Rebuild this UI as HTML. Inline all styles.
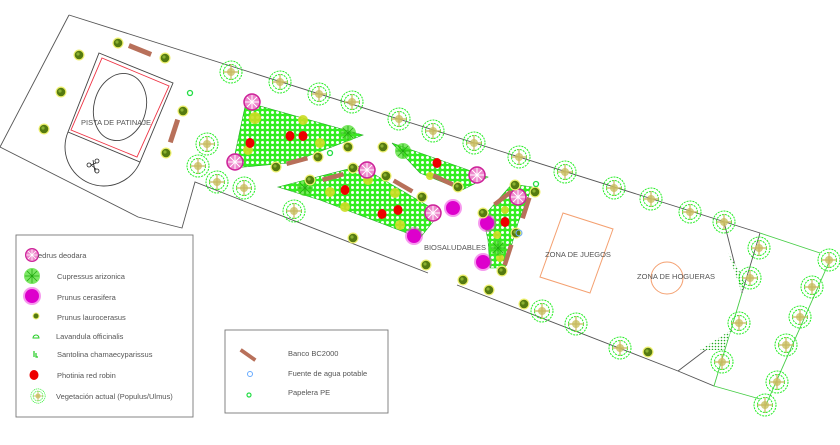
<!DOCTYPE html>
<html><head><meta charset="utf-8"><style>
html,body{margin:0;padding:0;background:#fff;}
svg{display:block;}
text{font-family:"Liberation Sans",sans-serif;fill:#555;}
</style></head><body>
<svg width="840" height="445" viewBox="0 0 840 445" xmlns="http://www.w3.org/2000/svg">
<defs>
<pattern id="hx" width="5" height="5" patternUnits="userSpaceOnUse">
<rect width="5" height="5" fill="#33ee22"/>
<circle cx="2.5" cy="2.5" r="1.5" fill="#fff"/>
</pattern>
<pattern id="ht" width="3" height="3" patternUnits="userSpaceOnUse">
<rect width="3" height="3" fill="#fff"/>
<circle cx="1.5" cy="1.5" r="0.8" fill="#22aa22"/>
</pattern>
<g id="tree">
<circle r="11" fill="none" stroke="#22ee22" stroke-width="1" stroke-dasharray="2 1"/>
<circle r="7.5" fill="none" stroke="#22ee22" stroke-width="1" stroke-dasharray="2 1"/>
<circle r="4" fill="#c8c060" opacity="0.8"/>
<path d="M-8,0H8M0,-8V8" stroke="#c8b860" stroke-width="1.2"/>
</g>
<g id="sh">
<circle r="5.5" fill="#eef070"/>
<circle r="4.3" fill="#557a10"/>
<circle cx="-1" cy="-1" r="1.6" fill="#8ab030"/>
</g>
<g id="ced">
<circle r="8" fill="#ee88cc" stroke="#cc2299" stroke-width="1.5"/>
<path d="M-7,0H7M0,-7V7M-5,-5L5,5M-5,5L5,-5" stroke="#fff" stroke-width="1"/>
</g>
<g id="pru">
<circle r="9" fill="#ee33dd" opacity="0.5"/>
<circle r="7" fill="#dd00cc"/>
</g>
<g id="pho"><ellipse rx="4.5" ry="5" fill="#ee0000"/></g>
<g id="cyp"><circle r="8" fill="#44dd22" opacity="0.7"/><path d="M-7,0H7M0,-7V7M-5,-5L5,5M-5,5L5,-5" stroke="#22aa11" stroke-width="0.8"/></g>
<g id="bench"><rect x="-12" y="-2.5" width="24" height="5" fill="#b8705a"/></g>
</defs>

<g fill="none" stroke="#555" stroke-width="0.9">
<polyline points="69,15 760,233"/>
<polyline points="69,15 0,147 138,217 182,228 195,182 428,273"/>
<polyline points="457,285 678,371 714,386"/>
<polyline points="760,233 742,293"/>
<polyline points="724,222 742,293"/>
<polyline points="678,371 732,330"/>
</g>
<g fill="none" stroke="#44cc44" stroke-width="0.9">
<polyline points="760,233 820,253"/>
<polyline points="742,293 714,386 760,399"/>
<polyline points="830,260 765,407"/>
</g>
<polygon points="728,253 745,280 742,293" fill="url(#ht)"/>
<polygon points="700,350 731,330 724,350" fill="url(#ht)"/>

<polygon points="99,53 173,83 140,162 68,132" fill="none" stroke="#444" stroke-width="0.9"/>
<polygon points="102,58 169,86 137,157 71,130" fill="none" stroke="#ee3344" stroke-width="0.9"/>
<ellipse cx="120" cy="107" rx="26" ry="34" transform="rotate(15 120 107)" fill="none" stroke="#444" stroke-width="0.9"/>
<path d="M68,132 A39,39 0 1,0 140,162" fill="none" stroke="#444" stroke-width="0.9"/>
<text x="116" y="125" font-size="7.5" text-anchor="middle">PISTA DE PATINAJE</text>
<g fill="none" stroke="#222" stroke-width="0.8">
<circle cx="89" cy="165" r="2"/><circle cx="97" cy="161" r="2"/><circle cx="97" cy="171" r="2"/>
<path d="M91,165 L96,163 M91,165 L96,169 M93,160 L95,172"/>
</g>

<polygon points="563,213 613,229 590,293 540,277" fill="none" stroke="#f4a070" stroke-width="1"/>
<text x="578" y="257" font-size="7.5" text-anchor="middle">ZONA DE JUEGOS</text>
<circle cx="667" cy="278" r="16" fill="none" stroke="#f4a070" stroke-width="1"/>
<text x="676" y="279" font-size="7.5" text-anchor="middle">ZONA DE HOGUERAS</text>
<text x="455" y="250" font-size="7.5" text-anchor="middle">BIOSALUDABLES</text>

<g stroke="#22aa22" stroke-width="0.6">
<polygon points="246,102 363,135 290,163 232,168" fill="url(#hx)"/>
<polygon points="278,187 360,166 440,213 420,238 320,200" fill="url(#hx)"/>
<polygon points="392,143 488,177 462,190 420,173" fill="url(#hx)"/>
<polygon points="512,184 532,187 518,223 505,268 490,268 488,240 483,217" fill="url(#hx)"/>
</g>
<g fill="#ccdd22" opacity="0.9">
<circle cx="255" cy="118" r="6"/><circle cx="248" cy="150" r="5"/><circle cx="303" cy="120" r="5"/><circle cx="320" cy="143" r="5"/>
<circle cx="330" cy="192" r="5"/><circle cx="368" cy="180" r="5"/><circle cx="345" cy="207" r="5"/><circle cx="395" cy="193" r="5"/><circle cx="400" cy="225" r="5"/>
<circle cx="430" cy="176" r="4"/><circle cx="505" cy="210" r="4"/><circle cx="497" cy="235" r="4"/><circle cx="500" cy="258" r="4"/>
</g>

<use href="#cyp" x="348" y="133"/><use href="#cyp" x="305" y="188"/><use href="#cyp" x="403" y="151"/><use href="#cyp" x="498" y="248"/>

<use href="#bench" transform="translate(140,50) rotate(22)"/>
<use href="#bench" transform="translate(174,131) rotate(-72)"/>
<use href="#bench" transform="translate(297,161) rotate(-15) scale(0.9)"/>
<use href="#bench" transform="translate(333,177) rotate(-15) scale(0.9)"/>
<use href="#bench" transform="translate(403,186) rotate(30) scale(0.9)"/>
<use href="#bench" transform="translate(443,180) rotate(25) scale(0.9)"/>
<use href="#bench" transform="translate(503,198) rotate(-38) scale(0.9)"/>
<use href="#bench" transform="translate(526,208) rotate(-72) scale(0.9)"/>
<use href="#bench" transform="translate(508,255) rotate(-72) scale(0.9)"/>

<use href="#ced" x="252" y="102"/><use href="#ced" x="235" y="162"/><use href="#ced" x="367" y="170"/><use href="#ced" x="433" y="213"/><use href="#ced" x="477" y="175"/><use href="#ced" x="518" y="197"/>
<use href="#pru" x="453" y="208"/><use href="#pru" x="414" y="236"/><use href="#pru" x="487" y="223"/><use href="#pru" x="483" y="262"/>
<use href="#pho" x="250" y="143"/><use href="#pho" x="290" y="136"/><use href="#pho" x="303" y="136"/><use href="#pho" x="345" y="190"/><use href="#pho" x="382" y="214"/><use href="#pho" x="398" y="210"/><use href="#pho" x="437" y="163"/><use href="#pho" x="505" y="222"/>

<g>
<use href="#sh" x="118" y="43"/><use href="#sh" x="165" y="58"/><use href="#sh" x="79" y="55"/><use href="#sh" x="61" y="92"/><use href="#sh" x="44" y="129"/><use href="#sh" x="183" y="111"/><use href="#sh" x="166" y="153"/>
<use href="#sh" x="348" y="147"/><use href="#sh" x="383" y="147"/><use href="#sh" x="318" y="157"/><use href="#sh" x="276" y="167"/><use href="#sh" x="310" y="180"/><use href="#sh" x="353" y="168"/><use href="#sh" x="386" y="176"/><use href="#sh" x="422" y="197"/><use href="#sh" x="458" y="187"/><use href="#sh" x="353" y="238"/><use href="#sh" x="426" y="265"/>
<use href="#sh" x="483" y="213"/><use href="#sh" x="515" y="185"/><use href="#sh" x="535" y="192"/><use href="#sh" x="516" y="233"/><use href="#sh" x="502" y="271"/><use href="#sh" x="463" y="280"/><use href="#sh" x="489" y="290"/><use href="#sh" x="524" y="304"/><use href="#sh" x="648" y="352"/>
</g>
<g fill="none" stroke="#22dd44" stroke-width="1.3">
<circle cx="190" cy="93" r="2.5"/><circle cx="330" cy="153" r="2.5"/><circle cx="536" cy="184" r="2.5"/>
</g>
<circle cx="519" cy="233" r="3" fill="none" stroke="#66aaff" stroke-width="1"/>

<g>
<use href="#tree" x="231" y="72"/><use href="#tree" x="280" y="82"/><use href="#tree" x="319" y="94"/><use href="#tree" x="352" y="102"/><use href="#tree" x="399" y="119"/><use href="#tree" x="433" y="131"/><use href="#tree" x="474" y="143"/><use href="#tree" x="519" y="157"/><use href="#tree" x="565" y="172"/><use href="#tree" x="651" y="199"/><use href="#tree" x="690" y="212"/><use href="#tree" x="724" y="222"/><use href="#tree" x="614" y="188"/>
<use href="#tree" x="759" y="248"/><use href="#tree" x="750" y="278"/><use href="#tree" x="739" y="323"/><use href="#tree" x="722" y="362"/>
<use href="#tree" x="829" y="260"/><use href="#tree" x="812" y="287"/><use href="#tree" x="800" y="317"/><use href="#tree" x="786" y="345"/><use href="#tree" x="777" y="382"/><use href="#tree" x="765" y="405"/>
<use href="#tree" x="542" y="311"/><use href="#tree" x="576" y="324"/><use href="#tree" x="620" y="348"/>
<use href="#tree" x="207" y="144"/><use href="#tree" x="198" y="166"/><use href="#tree" x="217" y="182"/><use href="#tree" x="244" y="188"/><use href="#tree" x="294" y="211"/>
</g>

<rect x="16" y="235" width="177" height="182" fill="#fff" stroke="#777" stroke-width="0.9"/>
<g font-size="7.5">
<use href="#ced" x="32" y="255" transform="translate(32 255) scale(0.8) translate(-32 -255)"/>
<text x="38" y="258">edrus deodara</text>
<use href="#cyp" x="32" y="276"/><text x="57" y="279">Cupressus arizonica</text>
<use href="#pru" x="32" y="296"/><text x="57" y="300">Prunus cerasifera</text>
<circle cx="36" cy="316" r="3" fill="#557a10" stroke="#eef070"/><text x="57" y="320">Prunus laurocerasus</text>
<path d="M33,338 a3,3 0 1,1 6,0z" fill="none" stroke="#22cc22"/><text x="56" y="339">Lavandula officinalis</text>
<path d="M34,351 v6 M36,353 v4 h2" stroke="#22cc22" stroke-width="1.2" fill="none"/><text x="57" y="357">Santolina chamaecyparissus</text>
<use href="#pho" x="34" y="375"/><text x="57" y="378">Photinia red robin</text>
<use href="#tree" x="38" y="396" transform="translate(38 396) scale(0.65) translate(-38 -396)"/>
<text x="56" y="399">Vegetación actual (Populus/Ulmus)</text>
</g>
<rect x="225" y="330" width="163" height="83" fill="#fff" stroke="#777" stroke-width="0.9"/>
<g font-size="7.5">
<use href="#bench" transform="translate(248,355) rotate(35) scale(0.75)"/>
<text x="288" y="356">Banco BC2000</text>
<circle cx="250" cy="374" r="2.5" fill="none" stroke="#66aaff"/><text x="288" y="376">Fuente de agua potable</text>
<circle cx="249" cy="395" r="2" fill="none" stroke="#22dd44" stroke-width="1.2"/><text x="288" y="395">Papelera PE</text>
</g>
</svg>
</body></html>
